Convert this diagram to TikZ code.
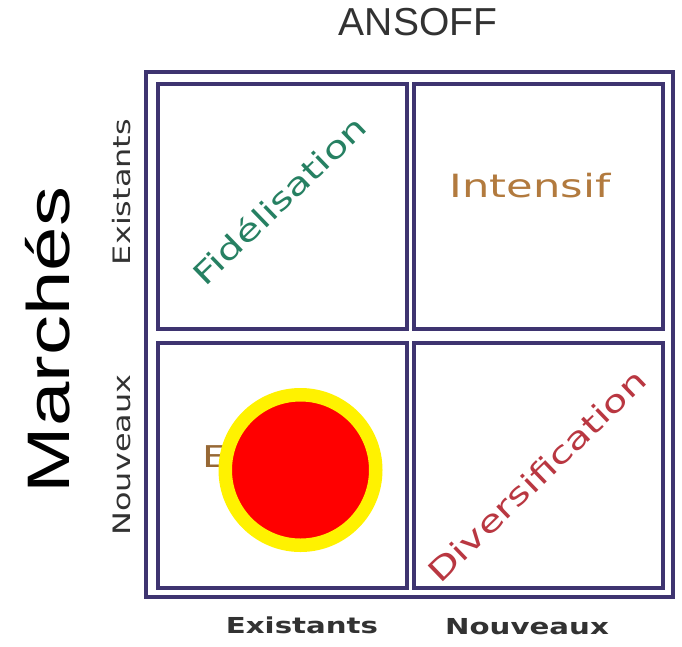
\documentclass[tikz,border=0pt]{standalone}
\usepackage{fontspec}
\setmainfont{DejaVu Sans}
\newfontfamily\titrefont{Liberation Sans}
\newfontfamily\margefont[FakeStretch=1.33]{Liberation Sans}
\newfontfamily\axefont[FakeStretch=1.33]{DejaVu Sans}
\newfontfamily\casefont[FakeStretch=1.35]{DejaVu Sans}

\definecolor{cadre}{RGB}{62,52,112}
\definecolor{lavande}{RGB}{196,190,226}
\definecolor{vert}{RGB}{38,128,98}
\definecolor{ocre}{RGB}{178,122,62}
\definecolor{bordeaux}{RGB}{185,55,65}
\definecolor{gris}{RGB}{50,50,50}

\tikzset{
  case/.style={draw=cadre, line width=3.5pt, minimum width=249pt, minimum height=245pt, inner sep=0pt},
  mot/.style={font=\casefont\fontsize{30}{36}\selectfont, inner sep=0pt},
  axe/.style={font=\axefont\fontsize{24}{29}\selectfont, text=gris, inner sep=0pt},
}

\begin{document}
\begin{tikzpicture}[x=1pt, y=-1pt]
	\useasboundingbox[fill=white] (0,0) rectangle (682,646);

	\node[font=\titrefont\fontsize{39}{46}\selectfont, text=gris] (ansoff) at (418, 22) {ANSOFF};
	\node[font=\margefont\fontsize{60}{72}\selectfont, rotate=90, inner sep=0pt] (marches) at (48, 340) {Marchés};

	% cadre et cases
	\node[draw=cadre, line width=3.5pt, minimum width=527pt, minimum height=525pt] (matrice) at (409.5, 334.5) {};
	\node[case] (fid) at (282.5, 206.5) {};
	\node[case] (int) at (538.5, 206.5) {};
	\node[case] (ext) at (282.5, 465.5) {};
	\node[case] (div) at (538.5, 465.5) {};

	% axes
	\node[axe, rotate=90] (exist-y) at (122, 192) {Existants};
	\node[axe, rotate=90] (nouv-y) at (122, 455) {Nouveaux};
	\node[axe, font=\axefont\bfseries\fontsize{22}{26}\selectfont] (exist-x) at (302, 625) {Existants};
	\node[axe, font=\axefont\bfseries\fontsize{22}{26}\selectfont] (nouv-x) at (527, 627) {Nouveaux};

	% strategies
	\node[mot, text=vert, rotate=44] (fid-t) at (279, 200) {Fidélisation};
	\node[mot, text=ocre, font=\casefont\fontsize{32}{38}\selectfont] (int-t) at (530, 186) {Intensif};
	\node[mot, text=ocre!85!black, anchor=west] (ext-t) at (202, 457) {E};
	\node[mot, text=bordeaux, rotate=44] (div-t) at (537, 476) {Diversification};

	\node[circle, fill=red, draw=yellow, line width=13.5pt, minimum size=150.5pt, inner sep=0pt] (pastille) at (300.5, 470) {};
\end{tikzpicture}
\end{document}
